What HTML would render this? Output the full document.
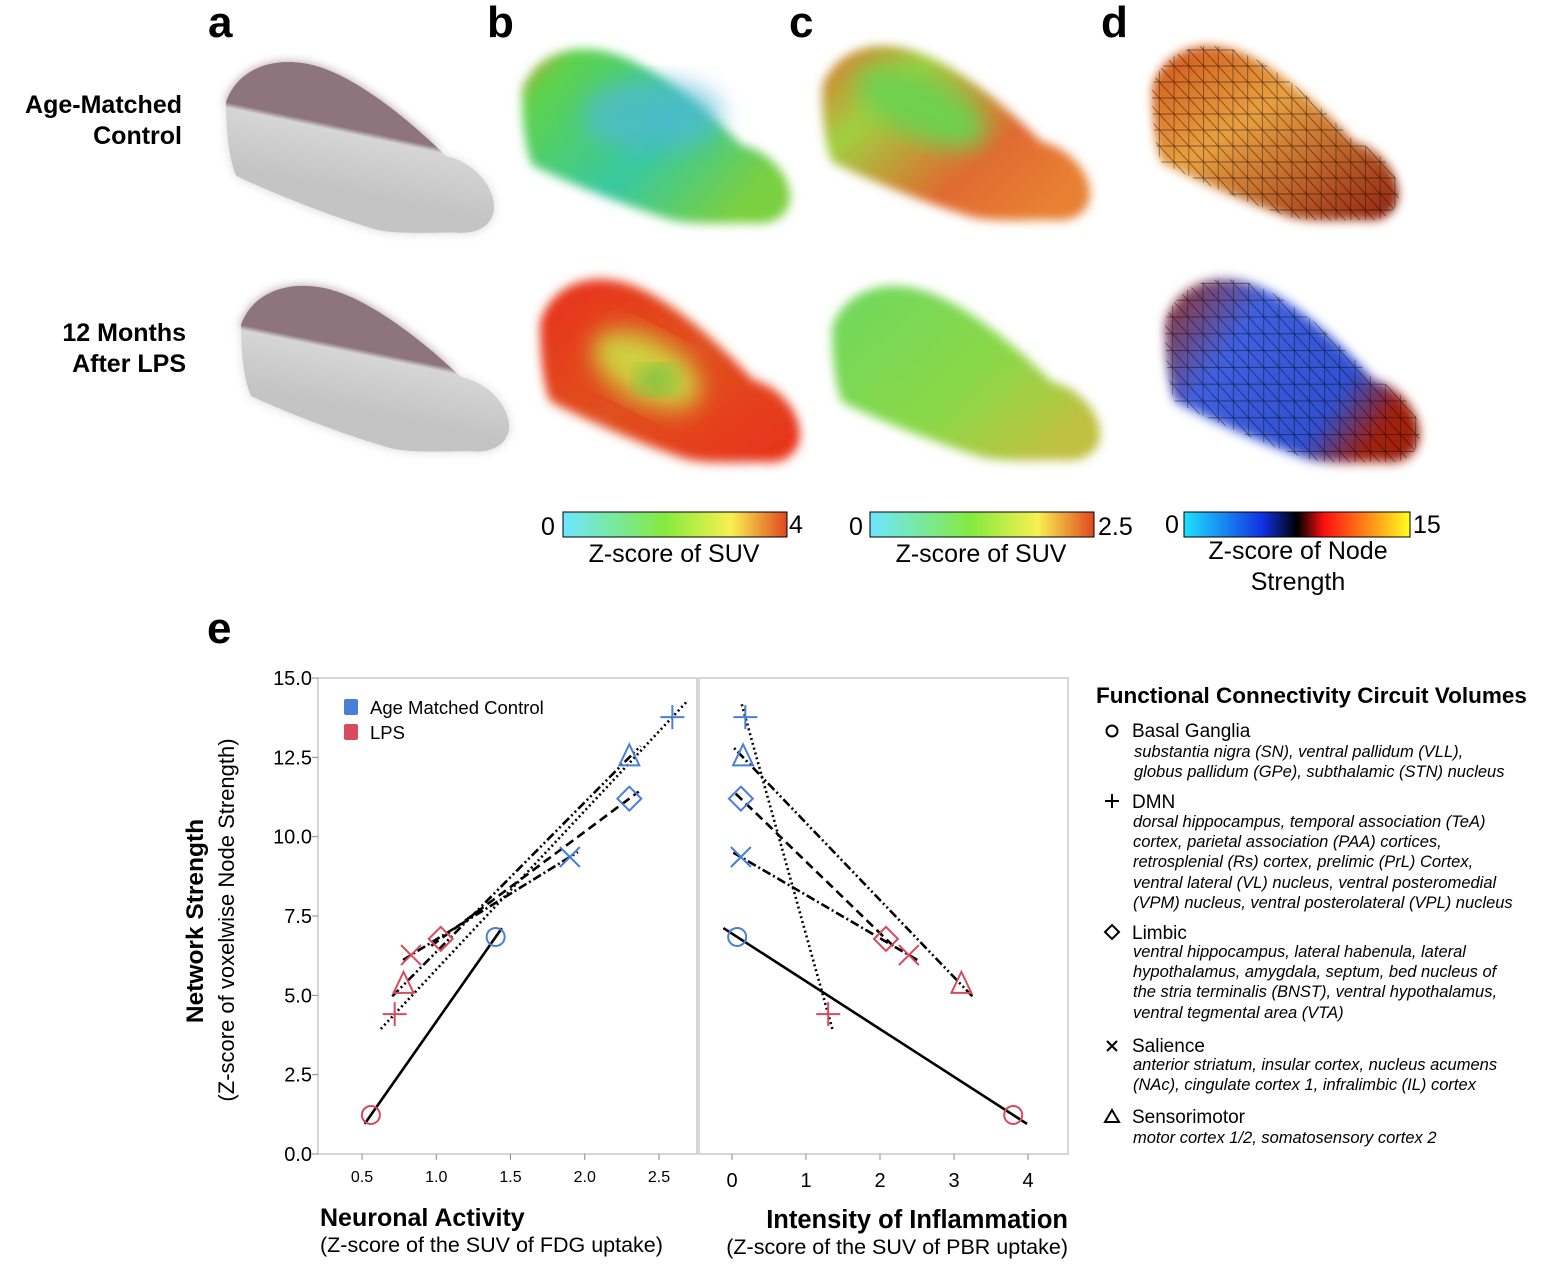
<!DOCTYPE html>
<html><head><meta charset="utf-8"><style>
html,body{margin:0;padding:0;background:#fff;}
svg{display:block;font-family:"Liberation Sans",Arial,sans-serif;}
</style></head><body>
<svg id="fig" width="1564" height="1270" viewBox="0 0 1564 1270" xmlns="http://www.w3.org/2000/svg">
<defs>
<path id="brain" d="M0,45 C10,15 40,0 75,5 C120,10 180,60 220,100 C245,105 270,130 268,155 C265,175 245,180 230,178 C200,178 170,180 150,175 C100,160 40,135 10,120 C2,100 0,70 0,45 Z"/>
<filter id="bl" x="-20%" y="-20%" width="140%" height="140%"><feGaussianBlur stdDeviation="5"/></filter>
<filter id="bl2" x="-20%" y="-20%" width="140%" height="140%"><feGaussianBlur stdDeviation="12"/></filter>
<linearGradient id="gA" x1="0.2" y1="0" x2="0" y2="0.6"><stop offset="0.45" stop-color="#8d747d"/><stop offset="0.5" stop-color="#d6d6d6"/><stop offset="1" stop-color="#c4c4c4"/></linearGradient>
<linearGradient id="gB1" x1="0" y1="0" x2="1" y2="0.6"><stop offset="0" stop-color="#d89030"/><stop offset="0.15" stop-color="#5fd24a"/><stop offset="0.6" stop-color="#38c8a0"/><stop offset="1" stop-color="#7ad040"/></linearGradient>
<linearGradient id="gB2" x1="0" y1="0" x2="1" y2="1"><stop offset="0" stop-color="#e83018"/><stop offset="0.5" stop-color="#e05020"/><stop offset="1" stop-color="#e83018"/></linearGradient>
<linearGradient id="gC1" x1="0" y1="0" x2="1" y2="0.7"><stop offset="0" stop-color="#e07030"/><stop offset="0.3" stop-color="#a0d040"/><stop offset="0.7" stop-color="#e06a30"/><stop offset="1" stop-color="#e88030"/></linearGradient>
<linearGradient id="gC2" x1="0" y1="0" x2="1" y2="0.7"><stop offset="0" stop-color="#6ed860"/><stop offset="0.6" stop-color="#8ad848"/><stop offset="1" stop-color="#c0c040"/></linearGradient>
<linearGradient id="gD1" x1="0" y1="0" x2="1" y2="1"><stop offset="0" stop-color="#d05018"/><stop offset="0.4" stop-color="#e8a040"/><stop offset="1" stop-color="#902010"/></linearGradient>
<linearGradient id="gD2" x1="0" y1="0" x2="1" y2="0.5"><stop offset="0" stop-color="#a03018"/><stop offset="0.35" stop-color="#4060e0"/><stop offset="0.8" stop-color="#3050d0"/><stop offset="1" stop-color="#a02010"/></linearGradient>
<pattern id="mesh" width="16" height="16" patternUnits="userSpaceOnUse"><path d="M0,0 L16,16 M0,8 H16 M8,0 V16" stroke="#000" stroke-width="0.7" fill="none"/></pattern>
<linearGradient id="cb1" x1="0" x2="1"><stop offset="0" stop-color="#6ee6ff"/><stop offset="0.45" stop-color="#84ea40"/><stop offset="0.75" stop-color="#f8f050"/><stop offset="1" stop-color="#e04820"/></linearGradient>
<linearGradient id="cb3" x1="0" x2="1"><stop offset="0" stop-color="#20e0ff"/><stop offset="0.35" stop-color="#1030e0"/><stop offset="0.5" stop-color="#000"/><stop offset="0.62" stop-color="#ff1010"/><stop offset="1" stop-color="#ffff20"/></linearGradient>
</defs>

<g font-weight="bold" font-size="44">
<text x="208" y="37">a</text>
<text x="487" y="37">b</text>
<text x="789" y="37">c</text>
<text x="1101" y="37">d</text>
<text x="207" y="643">e</text>
</g>
<g font-weight="bold" font-size="25" text-anchor="end">
<text x="182" y="113">Age-Matched</text>
<text x="182" y="144">Control</text>
<text x="186" y="341">12 Months</text>
<text x="186" y="372">After LPS</text>
</g>

<!-- brains -->
<g transform="translate(226,58) scale(1,0.98)"><use href="#brain" fill="url(#gA)" filter="url(#bl)" opacity="0.7"/><use href="#brain" fill="url(#gA)"/></g>
<g transform="translate(241,282) scale(1,0.95)"><use href="#brain" fill="url(#gA)" filter="url(#bl)" opacity="0.7"/><use href="#brain" fill="url(#gA)"/></g>
<g transform="translate(522,45)"><use href="#brain" fill="url(#gB1)" filter="url(#bl)"/><ellipse cx="130" cy="70" rx="70" ry="35" fill="#50b8d8" filter="url(#bl2)" opacity="0.7"/></g>
<g transform="translate(540,275) scale(0.97,1.05)"><use href="#brain" fill="url(#gB2)" filter="url(#bl)"/><ellipse cx="110" cy="90" rx="60" ry="30" fill="#d0d040" filter="url(#bl2)" transform="rotate(25 110 90)"/><ellipse cx="120" cy="100" rx="20" ry="12" fill="#60c040" filter="url(#bl2)"/></g>
<g transform="translate(822,42)"><use href="#brain" fill="url(#gC1)" filter="url(#bl)"/><ellipse cx="100" cy="65" rx="70" ry="30" fill="#70d050" filter="url(#bl2)" transform="rotate(25 100 65)"/></g>
<g transform="translate(832,282)"><use href="#brain" fill="url(#gC2)" filter="url(#bl)"/></g>
<g transform="translate(1152,42) scale(0.92,1)"><use href="#brain" fill="url(#gD1)" filter="url(#bl)"/><use href="#brain" fill="url(#mesh)" opacity="0.6"/></g>
<g transform="translate(1165,275) scale(0.95,1.05)"><use href="#brain" fill="url(#gD2)" filter="url(#bl)"/><use href="#brain" fill="url(#mesh)" opacity="0.6"/></g>

<!-- colorbars -->
<g font-size="25">
<rect x="563" y="512" width="224" height="25" fill="url(#cb1)" stroke="#000" stroke-width="1"/>
<text x="541" y="535">0</text><text x="789" y="533">4</text>
<text x="674" y="562" text-anchor="middle">Z-score of SUV</text>
</g>
<g font-size="25">
<rect x="870" y="512" width="224" height="25" fill="url(#cb1)" stroke="#000" stroke-width="1"/>
<text x="849" y="535">0</text><text x="1098" y="535">2.5</text>
<text x="981" y="562" text-anchor="middle">Z-score of SUV</text>
</g>
<g font-size="25">
<rect x="1184" y="512" width="226" height="25" fill="url(#cb3)" stroke="#000" stroke-width="1"/>
<text x="1165" y="533">0</text><text x="1413" y="533">15</text>
<text x="1298" y="559" text-anchor="middle">Z-score of Node</text>
<text x="1298" y="590" text-anchor="middle">Strength</text>
</g>

<g id="chart"></g>

<!-- legend right -->
<g font-size="17">
<text x="1096" y="703" font-weight="bold" font-size="22.5">Functional Connectivity Circuit Volumes</text>
<g>
<circle cx="1112" cy="731" r="5.5" fill="none" stroke="#000" stroke-width="2"/>
<text x="1132" y="737" font-size="19">Basal Ganglia</text>
<text x="1134" y="757" font-style="italic" font-size="16.5">substantia nigra (SN), ventral pallidum (VLL),</text>
<text x="1134" y="777" font-style="italic" font-size="16.5">globus pallidum (GPe), subthalamic (STN) nucleus</text></g>
<g>
<path d="M1105,801 H1119 M1112,794 V808" stroke="#000" stroke-width="2"/>
<text x="1132" y="808" font-size="19">DMN</text>
<g font-style="italic" font-size="16.5">
<text x="1133" y="827">dorsal hippocampus, temporal association (TeA)</text>
<text x="1133" y="847">cortex, parietal association (PAA) cortices,</text>
<text x="1133" y="867">retrosplenial (Rs) cortex, prelimic (PrL) Cortex,</text>
<text x="1133" y="888">ventral lateral (VL) nucleus, ventral posteromedial</text>
<text x="1133" y="908">(VPM) nucleus, ventral posterolateral (VPL) nucleus</text></g></g>
<g>
<path d="M1112,925 L1119,932 L1112,939 L1105,932 Z" fill="none" stroke="#000" stroke-width="2"/>
<text x="1132" y="939" font-size="19">Limbic</text>
<g font-style="italic" font-size="16.5">
<text x="1133" y="957">ventral hippocampus, lateral habenula, lateral</text>
<text x="1133" y="977">hypothalamus, amygdala, septum, bed nucleus of</text>
<text x="1133" y="997">the stria terminalis (BNST), ventral hypothalamus,</text>
<text x="1133" y="1018">ventral tegmental area (VTA)</text></g></g>
<g>
<path d="M1107,1041 L1117,1051 M1117,1041 L1107,1051" stroke="#000" stroke-width="2"/>
<text x="1132" y="1052" font-size="19">Salience</text>
<g font-style="italic" font-size="16.5">
<text x="1133" y="1070">anterior striatum, insular cortex, nucleus acumens</text>
<text x="1133" y="1090">(NAc), cingulate cortex 1, infralimbic (IL) cortex</text></g></g>
<g>
<path d="M1112,1110 L1119,1122 L1105,1122 Z" fill="none" stroke="#000" stroke-width="2"/>
<text x="1132" y="1123" font-size="19">Sensorimotor</text>
<text x="1133" y="1143" font-style="italic" font-size="16.5">motor cortex 1/2, somatosensory cortex 2</text></g>
</g>
</svg>
<script>
const circuits = ["circle","plus","diamond","x","triangle"];
const fdgControl = [1.40, 2.59, 2.30, 1.90, 2.30];
const fdgLPS = [0.56, 0.72, 1.03, 0.83, 0.78];
const pbrControl = [0.07, 0.18, 0.12, 0.12, 0.15];
const pbrLPS = [3.80, 1.30, 2.08, 2.39, 3.10];
const nsControl = [6.84, 13.77, 11.2, 9.36, 12.5];
const nsLPS = [1.23, 4.41, 6.78, 6.27, 5.33];
const yTicks = ["0.0","2.5","5.0","7.5","10.0","12.5","15.0"];
const xTicksL = ["0.5","1.0","1.5","2.0","2.5"];
const xTicksR = ["0","1","2","3","4"];

const NS="http://www.w3.org/2000/svg";
const chart=document.getElementById('chart');
function mk(tag,attrs,parent){const e=document.createElementNS(NS,tag);for(const k in attrs)e.setAttribute(k,attrs[k]);(parent||chart).appendChild(e);return e;}
const yS=v=>1154-v*31.73;
const xL=v=>362+(v-0.5)*148.5;
const xR=v=>732+v*74;
const dash={circle:"none",plus:"2,3",diamond:"9,5",x:"9,3,2,3",triangle:"9,3,2,3,2,3"};
const BLUE="#4a7fd8", RED="#d84a5e";

let f=mk('rect',{x:318,y:678,width:379,height:476,fill:"none",stroke:"#c8c8c8","stroke-width":1.5});


f=mk('rect',{x:699,y:678,width:369,height:476,fill:"none",stroke:"#c8c8c8","stroke-width":1.5});



yTicks.forEach((t,i)=>{
  const y=yS(parseFloat(t));
  mk('line',{x1:312,x2:318,y1:y,y2:y,stroke:"#888"});
  const tx=mk('text',{x:312,y:y+7,"text-anchor":"end","font-size":20});
  tx.textContent=t;
  
  
});
xTicksL.forEach(t=>{
  const x=xL(parseFloat(t));
  mk('line',{x1:x,x2:x,y1:1154,y2:1160,stroke:"#888"});
  const tx=mk('text',{x:x,y:1182,"text-anchor":"middle","font-size":16});
  tx.textContent=t;
  
  
});
xTicksR.forEach(t=>{
  const x=xR(parseFloat(t));
  mk('line',{x1:x,x2:x,y1:1154,y2:1160,stroke:"#888"});
  const tx=mk('text',{x:x,y:1187,"text-anchor":"middle","font-size":20});
  tx.textContent=t;
  
  
});

function marker(type,cx,cy,col,name){
  const g=mk('g',{fill:"none",stroke:col,"stroke-width":2});
  
  
  const s=10;
  if(type==="circle")mk('circle',{cx,cy,r:9},g);
  else if(type==="plus")mk('path',{d:`M${cx-12},${cy}H${cx+12}M${cx},${cy-12}V${cy+12}`},g);
  else if(type==="diamond")mk('path',{d:`M${cx},${cy-12}L${cx+12},${cy}L${cx},${cy+12}L${cx-12},${cy}Z`},g);
  else if(type==="x")mk('path',{d:`M${cx-s},${cy-s}L${cx+s},${cy+s}M${cx+s},${cy-s}L${cx-s},${cy+s}`},g);
  else mk('path',{d:`M${cx},${cy-13}L${cx+10},${cy+8}L${cx-10},${cy+8}Z`},g);
}
function line(type,x1,y1,x2,y2,name){
  const e=0.05, dx=x2-x1, dy=y2-y1;
  const l=mk('line',{x1:x1-dx*e,y1:y1-dy*e,x2:x2+dx*e,y2:y2+dy*e,stroke:"#000","stroke-width":2.6,"stroke-dasharray":dash[type]});
  
  
}
circuits.forEach((c,i)=>{
  line(c,xL(fdgLPS[i]),yS(nsLPS[i]),xL(fdgControl[i]),yS(nsControl[i]),'fit-line-fdg-'+c);
  line(c,xR(pbrLPS[i]),yS(nsLPS[i]),xR(pbrControl[i]),yS(nsControl[i]),'fit-line-pbr-'+c);
});
circuits.forEach((c,i)=>{
  marker(c,xL(fdgControl[i]),yS(nsControl[i]),BLUE,'point-fdg-control-'+c);
  marker(c,xL(fdgLPS[i]),yS(nsLPS[i]),RED,'point-fdg-lps-'+c);
  marker(c,xR(pbrControl[i]),yS(nsControl[i]),BLUE,'point-pbr-control-'+c);
  marker(c,xR(pbrLPS[i]),yS(nsLPS[i]),RED,'point-pbr-lps-'+c);
});

let r=mk('rect',{x:344,y:699,width:14,height:16,rx:2,fill:BLUE});


r=mk('rect',{x:344,y:724,width:14,height:16,rx:2,fill:RED});


let t=mk('text',{x:370,y:714,"font-size":18.5});t.textContent="Age Matched Control";


t=mk('text',{x:370,y:739,"font-size":18.5});t.textContent="LPS";



t=mk('text',{x:0,y:0,"font-size":24.5,"font-weight":"bold","text-anchor":"middle",transform:"translate(203,921) rotate(-90)"});t.textContent="Network Strength";


t=mk('text',{x:0,y:0,"font-size":22,"text-anchor":"middle",transform:"translate(234,920) rotate(-90)"});t.textContent="(Z-score of voxelwise Node Strength)";


t=mk('text',{x:320,y:1226,"font-size":25,"font-weight":"bold"});t.textContent="Neuronal Activity";


t=mk('text',{x:320,y:1252,"font-size":21.5});t.textContent="(Z-score of the SUV of FDG uptake)";


t=mk('text',{x:1068,y:1228,"font-size":25.5,"font-weight":"bold","text-anchor":"end"});t.textContent="Intensity of Inflammation";


t=mk('text',{x:1068,y:1254,"font-size":21.5,"text-anchor":"end"});t.textContent="(Z-score of the SUV of PBR uptake)";


</script>
</body></html>
